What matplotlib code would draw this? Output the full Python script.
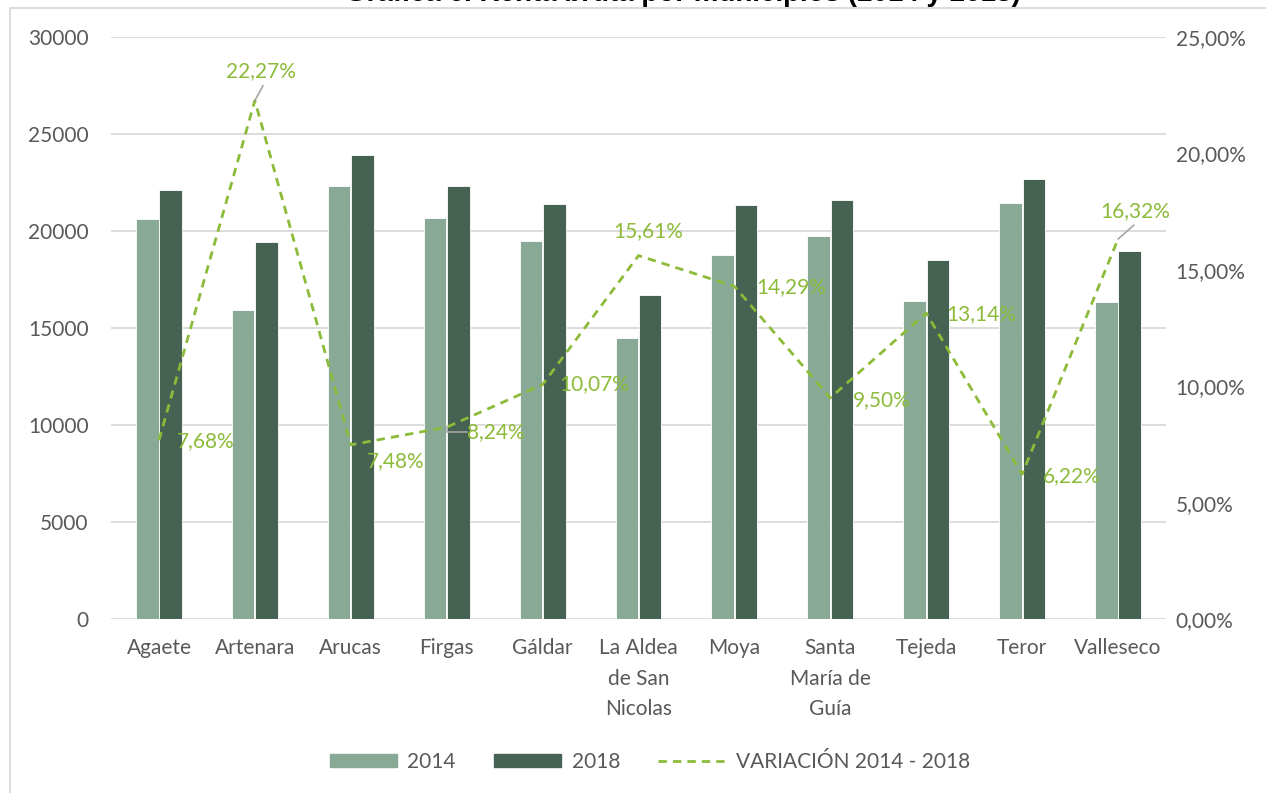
import matplotlib
matplotlib.use('Agg')
from matplotlib import pyplot as plt
from matplotlib.patches import Rectangle
from matplotlib.lines import Line2D
from matplotlib.ticker import FuncFormatter
import numpy as np

municipios = ['Agaete', 'Artenara', 'Arucas', 'Firgas', 'Gáldar',
              'La Aldea\nde San\nNicolas', 'Moya', 'Santa\nMaría de\nGuía',
              'Tejeda', 'Teror', 'Valleseco']
renta_2014 = [20600, 15930, 22320, 20670, 19490, 14490, 18760, 19740, 16390, 21430, 16340]
renta_2018 = [22100, 19440, 23920, 22320, 21400, 16700, 21350, 21600, 18500, 22700, 18990]
variacion = [7.68, 22.27, 7.48, 8.24, 10.07, 15.61, 14.29, 9.50, 13.14, 6.22, 16.32]

# label offsets in pixels (dx, dy) and whether excel drew a leader line
label_offsets = [(47, -1), (6, 29), (45, -16), (49, -5), (52, 0), (10, 25),
                 (57, -1), (51, -2), (55, -1), (50, -2), (17, 28)]
leaders = [False, True, False, True, False, False, False, False, False, False, True]

c2014 = '#87A996'
c2018 = '#466253'
cline = '#8CBB3A'
gray_txt = '#595959'
font = 'Lato'
fs = 15

fig = plt.figure(figsize=(12.66, 7.93), dpi=100)
ax = fig.add_axes([111/1266, 1-619/793, (1166-111)/1266, (619-37)/793])
ax2 = ax.twinx()

x = np.arange(len(municipios))
w = 0.235
ax.bar(x - 0.122, renta_2014, w, color=c2014, edgecolor='white', linewidth=0.6, zorder=2, label='2014')
ax.bar(x + 0.122, renta_2018, w, color=c2018, edgecolor='white', linewidth=0.6, zorder=2, label='2018')

ax.set_xlim(-0.5, len(municipios) - 0.5)
ax.set_ylim(0, 30000)
ax.set_yticks(np.arange(0, 30001, 5000))
ax.grid(axis='y', color='#D9D9D9', linewidth=1.3, zorder=0)
ax.set_axisbelow(True)
ax.set_xticks(x)
ax.set_xticklabels(municipios, fontsize=fs, color=gray_txt, family=font, linespacing=1.65)
for lab in ax.get_yticklabels():
    lab.set_fontsize(fs)
    lab.set_color(gray_txt)
    lab.set_family(font)
ax.tick_params(axis='y', length=0, pad=16)
ax.tick_params(axis='x', length=0, pad=14)

var_frac = [v / 100 for v in variacion]
ax2.plot(x, var_frac, color=cline, linestyle=(0, (3, 2.2)), linewidth=2, zorder=3)
ax2.set_ylim(0, 0.25)
ax2.set_yticks(np.arange(0, 0.2501, 0.05))
ax2.yaxis.set_major_formatter(FuncFormatter(lambda v, p: f'{v*100:.2f}%'.replace('.', ',')))
for lab in ax2.get_yticklabels():
    lab.set_fontsize(fs)
    lab.set_color(gray_txt)
    lab.set_family(font)
ax2.tick_params(axis='y', length=0, pad=7)

for i, v in enumerate(variacion):
    dx, dy = label_offsets[i]
    txt = f'{v:.2f}%'.replace('.', ',')
    ax2.annotate(txt, (x[i], var_frac[i]), xytext=(dx, dy), textcoords='offset pixels',
                 ha='center', va='center', fontsize=fs, color=cline, family=font, zorder=4)
    if leaders[i]:
        if dy > 10:
            ax2.annotate('', (x[i], var_frac[i]), xytext=(dx * 0.7 + 4, dy - 14),
                         textcoords='offset pixels',
                         arrowprops=dict(arrowstyle='-', color='#A6A6A6', lw=1.2,
                                         shrinkA=0, shrinkB=0))
        else:
            ax2.annotate('', (x[i], var_frac[i]), xytext=(dx - 29, dy),
                         textcoords='offset pixels',
                         arrowprops=dict(arrowstyle='-', color='#A6A6A6', lw=1.2,
                                         shrinkA=0, shrinkB=0,
                                         connectionstyle='angle,angleA=0,angleB=90,rad=0'))

for a in (ax, ax2):
    for s in a.spines.values():
        s.set_visible(False)

handles = [Rectangle((0, 0), 1, 1, color=c2014), Rectangle((0, 0), 1, 1, color=c2018),
           Line2D([0], [0], color=cline, linestyle=(0, (3, 2.2)), linewidth=2)]
fig.legend(handles, ['2014', '2018', 'VARIACIÓN 2014 - 2018'], loc='center',
           bbox_to_anchor=(650/1266, 1-762/793), ncol=3, frameon=False,
           prop={'family': font, 'size': fs}, labelcolor=gray_txt,
           handlelength=3.2, handleheight=0.6, columnspacing=1.85, handletextpad=0.5)

# outer chart border and the clipped title
fig.patches.append(Rectangle((10/1266, -0.1), 1.2, 1 - 8/793 + 0.1, transform=fig.transFigure,
                             fill=False, edgecolor='#D9D9D9', linewidth=1.3))
fig.text(683/1266, 1 - 1/793, 'Gráfica 6. Renta bruta por municipios (2014 y 2018)',
         ha='center', va='baseline', fontsize=20, fontweight='bold',
         family='Liberation Sans', color='black')

fig.savefig('out.png', dpi=100)
